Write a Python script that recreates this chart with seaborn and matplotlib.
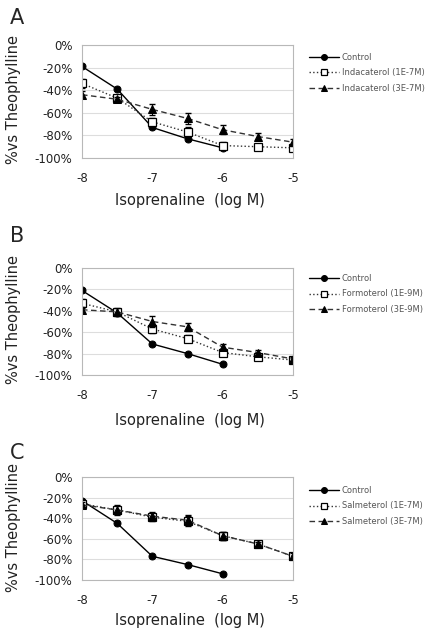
import numpy as np
import pandas as pd
import matplotlib
matplotlib.use('Agg')
import matplotlib.pyplot as plt
import seaborn as sns
from matplotlib.ticker import PercentFormatter, MultipleLocator

sns.set_style('white')
plt.rcParams['font.family'] = ['DejaVu Sans']
plt.rcParams['axes.unicode_minus'] = False

# log M isoprenaline concentrations
conc = [-8, -7.5, -7, -6.5, -6, -5.5, -5]

# panel A - indacaterol
a_control = [-19, -39, -73, -83, -91]
a_low = [-34, -47, -68, -77, -89, -90, -91]
a_high = [-44, -48, -57, -65, -75, -81, -86]
a_low_err = [4, 2, 3, 4, 3, 2, 2]
a_high_err = [3, 2, 5, 5, 4, 3, 3]

# panel B - formoterol
b_control = [-21, -42, -71, -80, -90]
b_low = [-33, -41, -57, -66, -79, -83, -86]
b_high = [-39, -41, -50, -55, -74, -79, -85]
b_low_err = [4, 3, 4, 3, 3, 2, 2]
b_high_err = [3, 4, 5, 4, 3, 2, 2]

# panel C - salmeterol
c_control = [-23, -45, -77, -85, -94]
c_low = [-26, -32, -39, -43, -57, -65, -77]
c_high = [-27, -32, -38, -42, -57, -65, -77]
c_low_err = [3, 4, 4, 5, 4, 2, 3]
c_high_err = [3, 5, 4, 5, 4, 2, 3]

panels = [
    ('A', 'Indacaterol (1E-7M)', 'Indacaterol (3E-7M)', a_control, a_low, a_high, a_low_err, a_high_err),
    ('B', 'Formoterol (1E-9M)', 'Formoterol (3E-9M)', b_control, b_low, b_high, b_low_err, b_high_err),
    ('C', 'Salmeterol (1E-7M)', 'Salmeterol (3E-7M)', c_control, c_low, c_high, c_low_err, c_high_err),
]

W, H = 439, 634
fig = plt.figure(figsize=(W / 100, H / 100), dpi=100)

# axes boxes in pixels: (left, top, right, bottom)
boxes = [(82, 45, 293, 158), (82, 268, 293, 375), (82, 477, 293, 580)]
legend_tops = [49, 270, 482]
letter_y = [18, 236, 453]
ylabel_mid = [100, 320, 527]
xlabel_y = [200, 420, 620]

grey = '#b8b8b8'

for i, (letter, lab_low, lab_high, ctrl, low, high, low_err, high_err) in enumerate(panels):
    l, t, r, b = boxes[i]
    ax = fig.add_axes([l / W, 1 - b / H, (r - l) / W, (b - t) / H])

    sns.lineplot(x=conc[:len(ctrl)], y=ctrl, ax=ax, color='black', marker='o', markersize=5,
                 linewidth=1, linestyle='-', label='Control', markeredgecolor='black')
    ax.errorbar(conc, low, yerr=low_err, fmt='none', ecolor='black', elinewidth=0.8, capsize=2.5)
    sns.lineplot(x=conc, y=low, ax=ax, color='#333333', marker='s', markersize=5.5,
                 linewidth=1, linestyle=':', label=lab_low, markerfacecolor='white',
                 markeredgecolor='black', markeredgewidth=0.9)
    ax.errorbar(conc, high, yerr=high_err, fmt='none', ecolor='black', elinewidth=0.8, capsize=2.5)
    sns.lineplot(x=conc, y=high, ax=ax, color='#333333', marker='^', markersize=5.5,
                 linewidth=1, linestyle=(0, (4, 2.5)), label=lab_high, markeredgecolor='black',
                 markerfacecolor='black')

    ax.set_xlim(-8, -5)
    ax.set_ylim(-100, 0)
    ax.xaxis.set_minor_locator(MultipleLocator(0.5))
    ax.yaxis.set_major_locator(MultipleLocator(20))
    ax.yaxis.set_major_formatter(PercentFormatter(xmax=100, decimals=0))
    ax.set_xticks([-8, -7, -6, -5])
    ax.set_xticklabels(['-8', '-7', '-6', '-5'])
    ax.grid(axis='y', color='#dddddd', linewidth=0.8)
    ax.set_axisbelow(True)
    for sp in ax.spines.values():
        sp.set_color(grey)
        sp.set_linewidth(0.8)
    ax.tick_params(axis='both', which='both', direction='out', length=3, color=grey,
                   labelsize=8.5, labelcolor='#222222', pad=4)
    ax.tick_params(axis='x', which='major', pad=7)
    ax.tick_params(axis='x', which='minor', length=3)
    ax.set_xlabel('')
    ax.set_ylabel('')

    leg = ax.legend(loc='upper left', bbox_to_anchor=(305 / W, 1 - legend_tops[i] / H),
                    bbox_transform=fig.transFigure, frameon=False, fontsize=6,
                    handlelength=3.6, handletextpad=0.3, labelspacing=0.75, borderpad=0,
                    markerscale=0.85)
    for txt in leg.get_texts():
        txt.set_color('#555555')

    fig.text(10 / W, 1 - letter_y[i] / H, letter, fontsize=15, ha='left', va='center')
    fig.text(14 / W, 1 - ylabel_mid[i] / H, '%vs Theophylline', fontsize=10.5, rotation=90,
             ha='center', va='center', color='#222222', fontweight='medium')
    fig.text(190 / W, 1 - xlabel_y[i] / H, 'Isoprenaline  (log M)', fontsize=10.5,
             ha='center', va='center', color='#222222')

fig.savefig('out.png', dpi=100, facecolor='white')
